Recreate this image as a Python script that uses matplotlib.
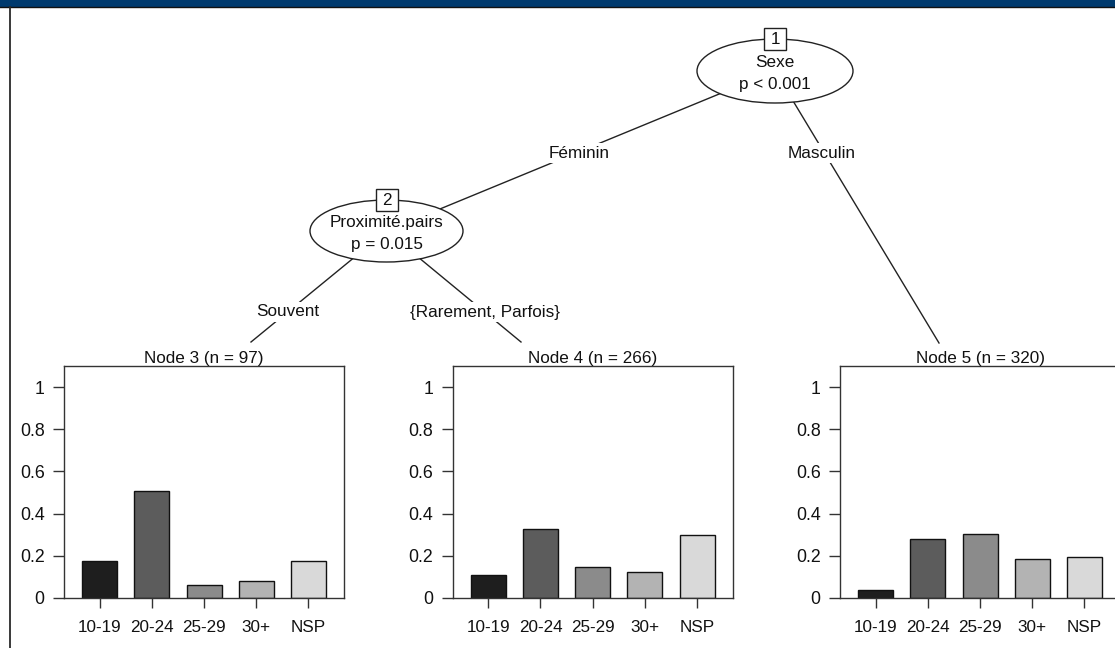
import matplotlib.pyplot as plt
from matplotlib.patches import Ellipse, Rectangle

plt.rcParams['font.family'] = ['Liberation Sans', 'DejaVu Sans']
plt.rcParams['text.color'] = '#111111'

# age groups and class proportions in each terminal node
age_groups = ['10-19', '20-24', '25-29', '30+', 'NSP']
node3_props = [0.175, 0.505, 0.062, 0.082, 0.175]
node4_props = [0.111, 0.325, 0.148, 0.122, 0.297]
node5_props = [0.037, 0.281, 0.303, 0.184, 0.195]
node_sizes = [97, 266, 320]

# inner nodes: id, variable, p-value text
inner_ids = [1, 2]
inner_vars = ['Sexe', 'Proximité.pairs']
inner_pvals = ['p < 0.001', 'p = 0.015']
edge_labels = ['Féminin', 'Masculin', 'Souvent', '{Rarement, Parfois}']

bar_colors = ['#1e1e1e', '#5c5c5c', '#8b8b8b', '#b3b3b3', '#d9d9d9']
line_col = '#222222'

W, H = 1115, 648
fig = plt.figure(figsize=(W / 100, H / 100), dpi=100)
fig.patch.set_facecolor('white')

# canvas in pixel units for the tree part
ax = fig.add_axes([0, 0, 1, 1])
ax.set_xlim(0, W)
ax.set_ylim(H, 0)
ax.axis('off')

# header band and left border
ax.add_patch(Rectangle((0, 0), W, 6.5, facecolor='#003a6e', edgecolor='none', zorder=1))
ax.plot([0, W], [7, 7], color='#111111', lw=1.0, zorder=2)
ax.plot([9.5, 9.5], [7, H], color='#2a2a2a', lw=1.3, zorder=2)

# node layout (pixels)
inner_pos = [(775, 71), (386.5, 231)]
inner_axes = [(78, 32), (76.5, 31)]
leaf_tops = [(251, 342), (521, 342), (939, 343)]

# edges
edges = [(inner_pos[0], inner_pos[1]), (inner_pos[0], leaf_tops[2]),
         (inner_pos[1], leaf_tops[0]), (inner_pos[1], leaf_tops[1])]
for (x0, y0), (x1, y1) in edges:
    ax.plot([x0, x1], [y0, y1], color=line_col, lw=1.0, zorder=3)

label_pos = [(579, 153), (822, 153), (288, 312), (485, 312)]
for (lx, ly), txt in zip(label_pos, edge_labels):
    ax.text(lx, ly, txt, fontsize=12.3, ha='center', va='center', zorder=5,
            bbox=dict(facecolor='white', edgecolor='none', pad=1.5))

# inner nodes
for (cx, cy), (a, b), nid, var, pv in zip(inner_pos, inner_axes, inner_ids,
                                          inner_vars, inner_pvals):
    ax.add_patch(Ellipse((cx, cy), 2 * a, 2 * b, facecolor='white',
                         edgecolor=line_col, lw=1.0, zorder=4))
    ax.add_patch(Rectangle((cx - 11, cy - b - 11), 22, 22, facecolor='white',
                           edgecolor=line_col, lw=1.0, zorder=6))
    ax.text(cx, cy - b + 0.5, str(nid), fontsize=12.3, ha='center', va='center', zorder=7)
    ax.text(cx, cy - 8.5, var, fontsize=12.3, ha='center', va='center', zorder=7)
    ax.text(cx, cy + 13.5, pv, fontsize=12.3, ha='center', va='center', zorder=7)

# terminal node barplots
leaf_left = [64, 452.7, 840]
box_w, box_top, box_bot = 280, 366, 598
leaf_props = [node3_props, node4_props, node5_props]
for i, (left, props) in enumerate(zip(leaf_left, leaf_props)):
    bax = fig.add_axes([left / W, (H - box_bot) / H, box_w / W, (box_bot - box_top) / H])
    xs = range(len(age_groups))
    bax.bar(xs, props, width=0.67, color=bar_colors, edgecolor='#111111', linewidth=1.0)
    bax.set_xlim(-0.68, len(age_groups) - 1 + 0.68)
    bax.set_ylim(0, 1.1)
    bax.set_xticks(list(xs))
    bax.set_xticklabels(age_groups, fontsize=12.3)
    bax.set_yticks([0, 0.2, 0.4, 0.6, 0.8, 1])
    bax.set_yticklabels(['0', '0.2', '0.4', '0.6', '0.8', '1'], fontsize=12.8)
    bax.tick_params(axis='y', length=8, width=1.0, pad=6, colors='#333333', labelcolor='#111111')
    bax.tick_params(axis='x', length=7.5, width=1.0, pad=8, colors='#333333', labelcolor='#111111')
    for sp in bax.spines.values():
        sp.set_color('#333333')
        sp.set_linewidth(1.0)
    bax.set_title(f'Node {i + 3} (n = {node_sizes[i]})', fontsize=12.3, pad=2)

fig.savefig('out.png', dpi=100)
